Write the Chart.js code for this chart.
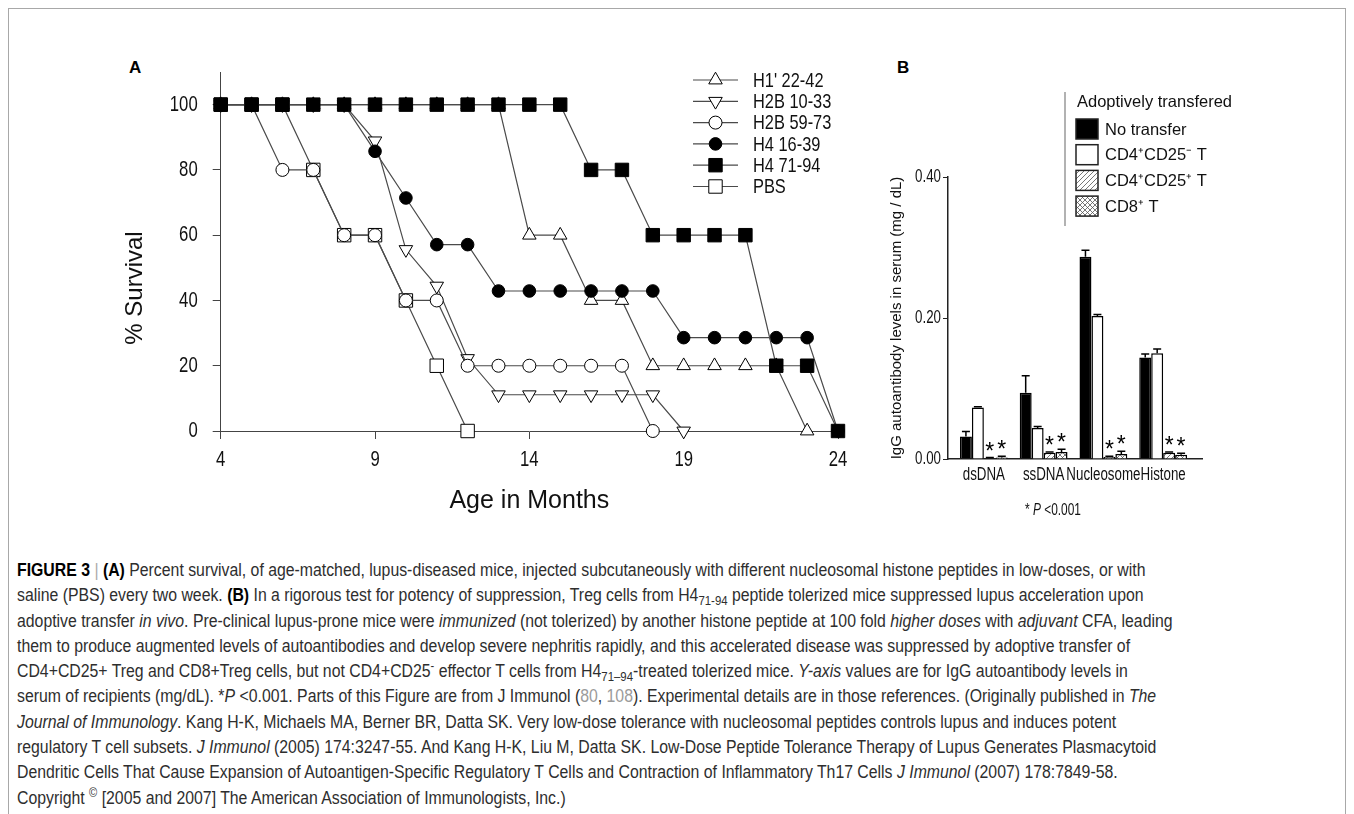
<!DOCTYPE html>
<html>
<head>
<meta charset="utf-8">
<script src="https://cdn.jsdelivr.net/npm/chart.js@4.4.1/dist/chart.umd.min.js"></script>
<style>
  html, body { margin: 0; padding: 0; background: #fff; }
  body { width: 1354px; height: 814px; position: relative; overflow: hidden; font-family: "Liberation Sans", Arial, sans-serif; }
  #frame { position: absolute; left: 8px; top: 8px; width: 1338px; height: 840px; border: 1px solid #a8a8a8; box-sizing: border-box; }
  canvas { position: absolute; }
  #chartA { left: 100px; top: 50px; }
  #chartB { left: 860px; top: 50px; }
  .tag { position: absolute; font-weight: bold; font-size: 17px; color: #000; }
  #sig { position: absolute; left: 1025px; top: 500px; font-size: 17px; color: #111; transform: scaleX(0.7); transform-origin: left top; white-space: nowrap; }
  #caption { position: absolute; left: 17px; top: 558px; font-size: 17.5px; line-height: 25.3px; color: #2e2e2e; white-space: nowrap; transform: scaleX(0.904); transform-origin: left top; }
  #caption b { color: #000; }
  #caption sub { font-size: 0.72em; line-height: 0; vertical-align: -0.3em; }
  #caption sup { font-size: 0.7em; line-height: 0; }
  .ref { color: #9b9b9b; }
  .sep { color: #aaa; }
</style>
</head>
<body>
<div id="frame"></div>
<div class="tag" style="left:129px; top:58px;">A</div>
<div class="tag" style="left:897px; top:58px;">B</div>
<canvas id="chartA" width="760" height="480"></canvas>
<canvas id="chartB" width="400" height="480"></canvas>
<div id="sig">* <i>P</i> &lt;0.001</div>
<div id="caption">
<b>FIGURE 3</b> <span class="sep">|</span> <b>(A)</b> Percent survival, of age-matched, lupus-diseased mice, injected subcutaneously with different nucleosomal histone peptides in low-doses, or with<br>
saline (PBS) every two week. <b>(B)</b> In a rigorous test for potency of suppression, Treg cells from H4<sub>71-94</sub> peptide tolerized mice suppressed lupus acceleration upon<br>
adoptive transfer <i>in vivo</i>. Pre-clinical lupus-prone mice were <i>immunized</i> (not tolerized) by another histone peptide at 100 fold <i>higher doses</i> with <i>adjuvant</i> CFA, leading<br>
them to produce augmented levels of autoantibodies and develop severe nephritis rapidly, and this accelerated disease was suppressed by adoptive transfer of<br>
CD4+CD25+ Treg and CD8+Treg cells, but not CD4+CD25<sup>-</sup> effector T cells from H4<sub>71–94</sub>-treated tolerized mice. <i>Y-axis</i> values are for IgG autoantibody levels in<br>
serum of recipients (mg/dL). *<i>P</i> &lt;0.001. Parts of this Figure are from J Immunol (<span class="ref">80</span>, <span class="ref">108</span>). Experimental details are in those references. (Originally published in <i>The</i><br>
<i>Journal of Immunology</i>. Kang H-K, Michaels MA, Berner BR, Datta SK. Very low-dose tolerance with nucleosomal peptides controls lupus and induces potent<br>
regulatory T cell subsets. <i>J Immunol</i> (2005) 174:3247-55. And Kang H-K, Liu M, Datta SK. Low-Dose Peptide Tolerance Therapy of Lupus Generates Plasmacytoid<br>
Dendritic Cells That Cause Expansion of Autoantigen-Specific Regulatory T Cells and Contraction of Inflammatory Th17 Cells <i>J Immunol</i> (2007) 178:7849-58.<br>
Copyright <sup>©</sup> [2005 and 2007] The American Association of Immunologists, Inc.)
</div>
<script>
// ---- panel A: survival by peptide ----
const months = [4, 5, 6, 7, 8, 9, 10, 11, 12, 13, 14, 15, 16, 17, 18, 19, 20, 21, 22, 23, 24];
const ageTicks = [4, 9, 14, 19, 24];
const survivalTicks = [0, 20, 40, 60, 80, 100];

const peptides = ["H1' 22-42", "H2B 10-33", "H2B 59-73", "H4 16-39", "H4 71-94", "PBS"];
// % survival per month (null once the group is gone)
const survH1_22_42 = [100, 100, 100, 100, 100, 100, 100, 100, 100, 100, 60, 60, 40, 40, 20, 20, 20, 20, 20, 0, null];
const survH2B_10_33 = [100, 100, 100, 100, 100, 88.9, 55.6, 44.4, 22.2, 11.1, 11.1, 11.1, 11.1, 11.1, 11.1, 0, null, null, null, null, null];
const survH2B_59_73 = [100, 100, 80, 80, 60, 60, 40, 40, 20, 20, 20, 20, 20, 20, 0, null, null, null, null, null, null];
const survH4_16_39 = [100, 100, 100, 100, 100, 85.7, 71.4, 57.1, 57.1, 42.9, 42.9, 42.9, 42.9, 42.9, 42.9, 28.6, 28.6, 28.6, 28.6, 28.6, 0];
const survH4_71_94 = [100, 100, 100, 100, 100, 100, 100, 100, 100, 100, 100, 100, 80, 80, 60, 60, 60, 60, 20, 20, 0];
const survPBS = [100, 100, 100, 80, 60, 60, 40, 20, 0, null, null, null, null, null, null, null, null, null, null, null, null];

// ---- panel B: IgG autoantibodies after adoptive transfer ----
const antigens = ["dsDNA", "ssDNA", "Nucleosome", "Histone"];
const transferGroups = ["No transfer", "CD4\u207ACD25\u207B T", "CD4\u207ACD25\u207A T", "CD8\u207A T"];
const igNoTransfer = [0.032, 0.094, 0.287, 0.144];
const igCD25neg = [0.073, 0.044, 0.203, 0.150];
const igCD25pos = [0.001, 0.009, 0.003, 0.009];
const igCD8 = [0.002, 0.010, 0.007, 0.006];
const errNoTransfer = [0.007, 0.024, 0.009, 0.005];
const errCD25neg = [0.001, 0.002, 0.002, 0.006];
const errCD25pos = [0.001, 0.001, 0.001, 0.001];
const errCD8 = [0.002, 0.004, 0.004, 0.002];
const igTicks = [0, 0.2, 0.4];

const SANS = '"Liberation Sans", Arial, sans-serif';

function drawMarker(ctx, ds, x, y) {
  const r = ds.pointRadius;
  ctx.save();
  ctx.fillStyle = ds.pointBackgroundColor;
  ctx.strokeStyle = ds.pointBorderColor;
  ctx.lineWidth = ds.pointBorderWidth;
  ctx.beginPath();
  if (ds.pointStyle === "circle") {
    ctx.arc(x, y, r, 0, Math.PI * 2);
  } else if (ds.pointStyle === "rect") {
    const s = r * Math.SQRT1_2;
    ctx.rect(x - s, y - s, 2 * s, 2 * s);
  } else {
    let a = (ds.pointRotation || 0) * Math.PI / 180;
    ctx.moveTo(x + Math.sin(a) * r, y - Math.cos(a) * r);
    a += 2 * Math.PI / 3;
    ctx.lineTo(x + Math.sin(a) * r, y - Math.cos(a) * r);
    a += 2 * Math.PI / 3;
    ctx.lineTo(x + Math.sin(a) * r, y - Math.cos(a) * r);
    ctx.closePath();
  }
  ctx.fill();
  ctx.stroke();
  ctx.restore();
}

// narrow text: the original uses a condensed face, so squeeze horizontally
function narrowText(ctx, text, x, y, sx) {
  ctx.save();
  ctx.translate(x, y);
  ctx.scale(sx, 1);
  ctx.fillText(text, 0, 0);
  ctx.restore();
}

// tick labels drawn in condensed type, at the scale's own tick positions
const condensedTicks = {
  id: "condensedTicks",
  afterDraw(chart, args, opts) {
    const ctx = chart.ctx;
    ctx.save();
    ctx.fillStyle = "#111";
    ctx.font = opts.font;
    ctx.textBaseline = "middle";
    ["x", "y"].forEach((id) => {
      const scale = chart.scales[id];
      scale.ticks.forEach((t) => {
        if (id === "x") {
          ctx.textAlign = "center";
          narrowText(ctx, t.label, scale.getPixelForValue(t.value), scale.top + opts.xOffset, opts.sx);
        } else {
          ctx.textAlign = "right";
          narrowText(ctx, t.label, scale.right - opts.yOffset, scale.getPixelForValue(t.value), opts.sx);
        }
      });
    });
    ctx.restore();
  },
};

// legend "—o—  label" rows and the rotated y title for panel A
const lineLegend = {
  id: "lineLegend",
  afterDraw(chart, args, opts) {
    const ctx = chart.ctx;
    ctx.save();
    chart.data.datasets.forEach((ds, i) => {
      const y = opts.top + i * opts.rowHeight;
      ctx.strokeStyle = ds.borderColor;
      ctx.lineWidth = ds.borderWidth;
      ctx.beginPath();
      ctx.moveTo(opts.left, y);
      ctx.lineTo(opts.left + opts.lineLength, y);
      ctx.stroke();
      drawMarker(ctx, ds, opts.left + opts.lineLength / 2, y);
      ctx.fillStyle = "#111";
      ctx.font = opts.font;
      ctx.textAlign = "left";
      ctx.textBaseline = "middle";
      narrowText(ctx, ds.label, opts.left + opts.lineLength + opts.gap, y + 1, opts.sx);
    });
    ctx.translate(opts.titleX, opts.titleY);
    ctx.rotate(-Math.PI / 2);
    ctx.font = opts.titleFont;
    ctx.fillStyle = "#111";
    ctx.textAlign = "center";
    ctx.textBaseline = "middle";
    ctx.fillText(opts.title, 0, 0);
    ctx.restore();
  },
};

function makeSeries(label, values, style) {
  return Object.assign({
    label: label,
    data: months.map((m, i) => ({ x: m, y: values[i] })),
    borderColor: "#4a4a4a",
    borderWidth: 1.2,
    pointBorderColor: "#000",
    pointBorderWidth: 1,
    pointRotation: 0,
    tension: 0,
    spanGaps: false,
    clip: false,
  }, style);
}

new Chart(document.getElementById("chartA"), {
  type: "line",
  data: {
    datasets: [
      makeSeries(peptides[0], survH1_22_42, { pointStyle: "triangle", pointRadius: 7.8, pointBackgroundColor: "#fff", order: 4 }),
      makeSeries(peptides[1], survH2B_10_33, { pointStyle: "triangle", pointRotation: 180, pointRadius: 7.8, pointBackgroundColor: "#fff", order: 3 }),
      makeSeries(peptides[2], survH2B_59_73, { pointStyle: "circle", pointRadius: 6.5, pointBackgroundColor: "#fff", order: 2 }),
      makeSeries(peptides[3], survH4_16_39, { pointStyle: "circle", pointRadius: 6.3, pointBackgroundColor: "#000", order: 1 }),
      makeSeries(peptides[4], survH4_71_94, { pointStyle: "rect", pointRadius: 9.5, pointBackgroundColor: "#000", order: 0 }),
      makeSeries(peptides[5], survPBS, { pointStyle: "rect", pointRadius: 9.5, pointBackgroundColor: "#fff", order: 5 }),
    ],
  },
  options: {
    responsive: false,
    animation: false,
    devicePixelRatio: 1,
    layout: { padding: { left: 0, right: 22, top: 22, bottom: 0 } },
    plugins: {
      legend: { display: false },
      tooltip: { enabled: false },
      condensedTicks: { font: "22px " + SANS, sx: 0.76, xOffset: 29, yOffset: 23 },
      lineLegend: {
        left: 593,
        top: 30,
        rowHeight: 21.3,
        lineLength: 45,
        gap: 15,
        font: "21px " + SANS,
        sx: 0.78,
        title: "% Survival",
        titleX: 35,
        titleY: 238,
        titleFont: "24px " + SANS,
      },
    },
    scales: {
      x: {
        type: "linear",
        min: 4,
        max: 24,
        afterBuildTicks: (s) => { s.ticks = ageTicks.map((v) => ({ value: v })); },
        afterFit: (s) => { s.height = 99; },
        grid: { drawOnChartArea: false, tickLength: 8, color: "#444" },
        border: { color: "#444", width: 1 },
        ticks: { display: false },
        title: { display: true, text: "Age in Months", color: "#111", font: { family: SANS, size: 25 }, padding: { top: 0, bottom: 14 } },
      },
      y: {
        min: 0,
        max: 110,
        afterBuildTicks: (s) => { s.ticks = survivalTicks.map((v) => ({ value: v })); },
        afterFit: (s) => { s.width = 120.7; },
        grid: { drawOnChartArea: false, tickLength: 8, color: "#444" },
        border: { color: "#444", width: 1 },
        ticks: { display: false },
      },
    },
  },
  plugins: [condensedTicks, lineLegend],
});

// ---- panel B ----
const ctxB = document.getElementById("chartB").getContext("2d");

function hatch(cross) {
  const c = document.createElement("canvas");
  c.width = 5;
  c.height = 5;
  const g = c.getContext("2d");
  g.fillStyle = "#fff";
  g.fillRect(0, 0, 5, 5);
  g.strokeStyle = "#555";
  g.lineWidth = 0.8;
  g.beginPath();
  g.moveTo(-1, 6); g.lineTo(6, -1);
  if (cross) { g.moveTo(-1, -1); g.lineTo(6, 6); }
  g.stroke();
  return ctxB.createPattern(c, "repeat");
}

const errorBars = {
  id: "errorBars",
  afterDatasetsDraw(chart) {
    const ctx = chart.ctx;
    const yScale = chart.scales.y;
    ctx.save();
    chart.data.datasets.forEach((ds, di) => {
      chart.getDatasetMeta(di).data.forEach((bar, i) => {
        const top = yScale.getPixelForValue(ds.data[i].y + ds.errors[i]);
        ctx.strokeStyle = "#000";
        ctx.lineWidth = 1.5;
        ctx.beginPath();
        ctx.moveTo(bar.x, bar.y);
        ctx.lineTo(bar.x, top);
        ctx.moveTo(bar.x - 4, top);
        ctx.lineTo(bar.x + 4, top);
        ctx.stroke();
        if (ds.starred) {
          ctx.fillStyle = "#000";
          ctx.font = "23px " + SANS;
          ctx.textAlign = "center";
          ctx.textBaseline = "alphabetic";
          ctx.fillText("*", bar.x, top + 1);
        }
      });
    });
    ctx.restore();
  },
};

const boxLegend = {
  id: "boxLegend",
  afterDraw(chart, args, opts) {
    const ctx = chart.ctx;
    ctx.save();
    ctx.strokeStyle = "#999";
    ctx.lineWidth = 1.5;
    ctx.beginPath();
    ctx.moveTo(opts.ruleX, opts.ruleTop);
    ctx.lineTo(opts.ruleX, opts.ruleBottom);
    ctx.stroke();
    ctx.fillStyle = "#111";
    ctx.font = opts.font;
    ctx.textAlign = "left";
    ctx.textBaseline = "middle";
    ctx.fillText(opts.title, opts.left + 1, opts.titleY);
    chart.data.datasets.forEach((ds, i) => {
      const y = opts.top + i * opts.rowHeight;
      ctx.fillStyle = ds.backgroundColor;
      ctx.fillRect(opts.left, y - opts.box / 2 + 1, opts.box + 2, opts.box);
      ctx.strokeStyle = "#222";
      ctx.lineWidth = 1.5;
      ctx.strokeRect(opts.left, y - opts.box / 2 + 1, opts.box + 2, opts.box);
      ctx.fillStyle = "#111";
      ctx.fillText(ds.label, opts.left + opts.box + 9, y + 2);
    });
    ctx.restore();
  },
};

function makeBars(label, values, errors, fill, starred) {
  return {
    label: label,
    data: antigens.map((a, i) => ({ x: i, y: values[i] })),
    errors: errors,
    starred: starred,
    backgroundColor: fill,
    borderColor: "#000",
    borderWidth: 1.5,
    categoryPercentage: 0.8,
    barPercentage: 1,
  };
}

new Chart(ctxB, {
  type: "bar",
  data: {
    datasets: [
      makeBars(transferGroups[0], igNoTransfer, errNoTransfer, "#000", false),
      makeBars(transferGroups[1], igCD25neg, errCD25neg, "#fff", false),
      makeBars(transferGroups[2], igCD25pos, errCD25pos, hatch(false), true),
      makeBars(transferGroups[3], igCD8, errCD8, hatch(true), true),
    ],
  },
  options: {
    responsive: false,
    animation: false,
    devicePixelRatio: 1,
    layout: { padding: { left: 0, right: 58, top: 127, bottom: 0 } },
    plugins: {
      legend: { display: false },
      tooltip: { enabled: false },
      condensedTicks: { font: "18px " + SANS, sx: 0.74, xOffset: 16, yOffset: 7 },
      boxLegend: {
        title: "Adoptively transfered",
        ruleX: 205, ruleTop: 42, ruleBottom: 176,
        left: 216, titleY: 52, top: 78, rowHeight: 25.7, box: 20,
        font: "16.5px " + SANS,
      },
    },
    scales: {
      x: {
        type: "linear",
        min: -0.6,
        max: 3.65,
        offset: false,
        afterBuildTicks: (s) => { s.ticks = antigens.map((a, i) => ({ value: i })); },
        afterFit: (s) => { s.height = 71; },
        grid: { display: false, drawTicks: false, offset: false },
        border: { color: "#222", width: 1.5 },
        ticks: { display: false, callback: (v) => antigens[v] },
      },
      y: {
        min: 0,
        max: 0.4,
        afterBuildTicks: (s) => { s.ticks = igTicks.map((v) => ({ value: v })); },
        afterFit: (s) => { s.width = 88; },
        grid: { drawOnChartArea: false, tickLength: 5, color: "#222" },
        border: { color: "#222", width: 1.5 },
        ticks: { display: false, callback: (v) => v.toFixed(2) },
        title: {
          display: true,
          text: "IgG autoantibody levels in serum (mg / dL)",
          color: "#111",
          font: { family: SANS, size: 15 },
          padding: { top: 28, bottom: 0 },
        },
      },
    },
  },
  plugins: [condensedTicks, errorBars, boxLegend],
});
</script>
</body>
</html>
